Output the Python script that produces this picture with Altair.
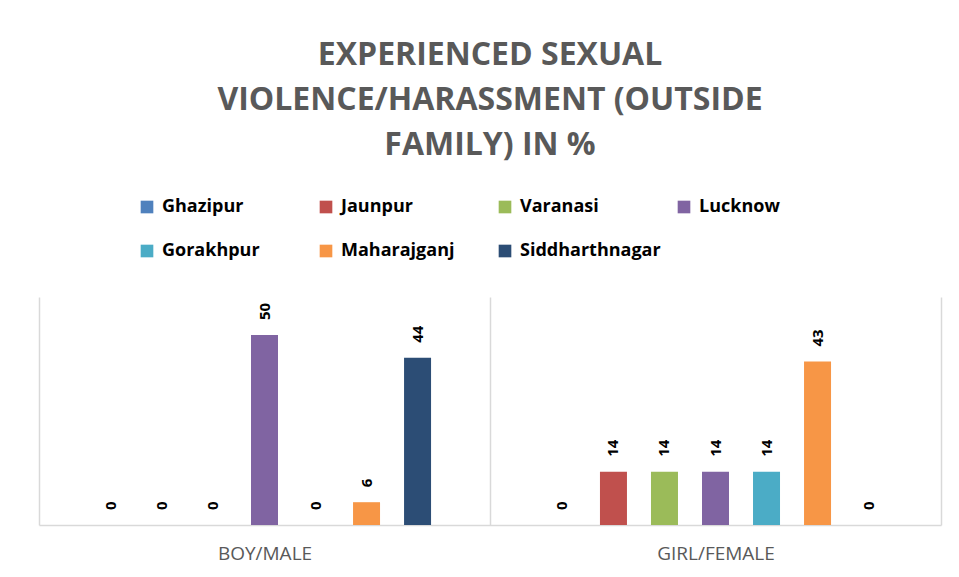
import altair as alt
import pandas as pd

categories = ["BOY/MALE", "GIRL/FEMALE"]
districts = ["Ghazipur", "Jaunpur", "Varanasi", "Lucknow",
             "Gorakhpur", "Maharajganj", "Siddharthnagar"]
colors = ["#4F81BD", "#C0504D", "#9BBB59", "#8064A2",
          "#4BACC6", "#F79646", "#2C4D75"]
boy_values = [0, 0, 0, 50, 0, 6, 44]
girl_values = [0, 14, 14, 14, 14, 43, 0]
title_lines = ["EXPERIENCED SEXUAL", "VIOLENCE/HARASSMENT (OUTSIDE", "FAMILY) IN %"]

rows = []
for d, b, g in zip(districts, boy_values, girl_values):
    rows.append({"category": categories[0], "district": d, "value": b})
    rows.append({"category": categories[1], "district": d, "value": g})
df = pd.DataFrame(rows)

FONT = "Open Sans"

base = alt.Chart(df).encode(
    x=alt.X("category:N", sort=categories, title=None,
            scale=alt.Scale(paddingInner=0, paddingOuter=0),
            axis=alt.Axis(labelAngle=0, tickBand="extent", grid=True,
                          gridColor="#d9d9d9", gridWidth=1.5,
                          domainColor="#d9d9d9", domainWidth=1.5,
                          ticks=False, labelPadding=19, labelFontSize=19,
                          labelColor="#595959", labelFont=FONT)),
    xOffset=alt.XOffset("district:N", sort=districts,
                        scale=alt.Scale(paddingInner=0.16, paddingOuter=1)),
    y=alt.Y("value:Q", scale=alt.Scale(domain=[0, 60]), axis=None),
)

bars = base.mark_bar(size=27).encode(
    color=alt.Color("district:N", sort=districts,
                    scale=alt.Scale(domain=districts, range=colors),
                    legend=alt.Legend(orient="none", legendX=99, legendY=-99,
                                      direction="horizontal",
                                      columns=4, gridAlign="all", title=None,
                                      symbolType="square", symbolSize=160,
                                      symbolStrokeWidth=0, labelFont=FONT,
                                      labelFontSize=18, labelFontWeight="bold",
                                      labelColor="#000000", labelOffset=6,
                                      columnPadding=14, rowPadding=26))
)

labels = base.mark_text(angle=270, align="left", baseline="middle", dx=15,
                        font=FONT, fontSize=15, fontWeight="bold",
                        color="#000000").encode(text="value:Q")

chart = alt.layer(bars, labels).properties(
    width=902, height=228,
    title=alt.TitleParams(title_lines, font=FONT, fontSize=32, fontWeight="bold",
                          color="#595959", lineHeight=45, anchor="middle",
                          offset=36),
    autosize=alt.AutoSizeParams(type="none"),
    padding={"left": 31, "top": 289, "right": 10, "bottom": 40},
).configure(background="white", view=alt.ViewConfig(stroke=None))

chart.save("out.html", embed_options={"renderer": "svg", "actions": False})
